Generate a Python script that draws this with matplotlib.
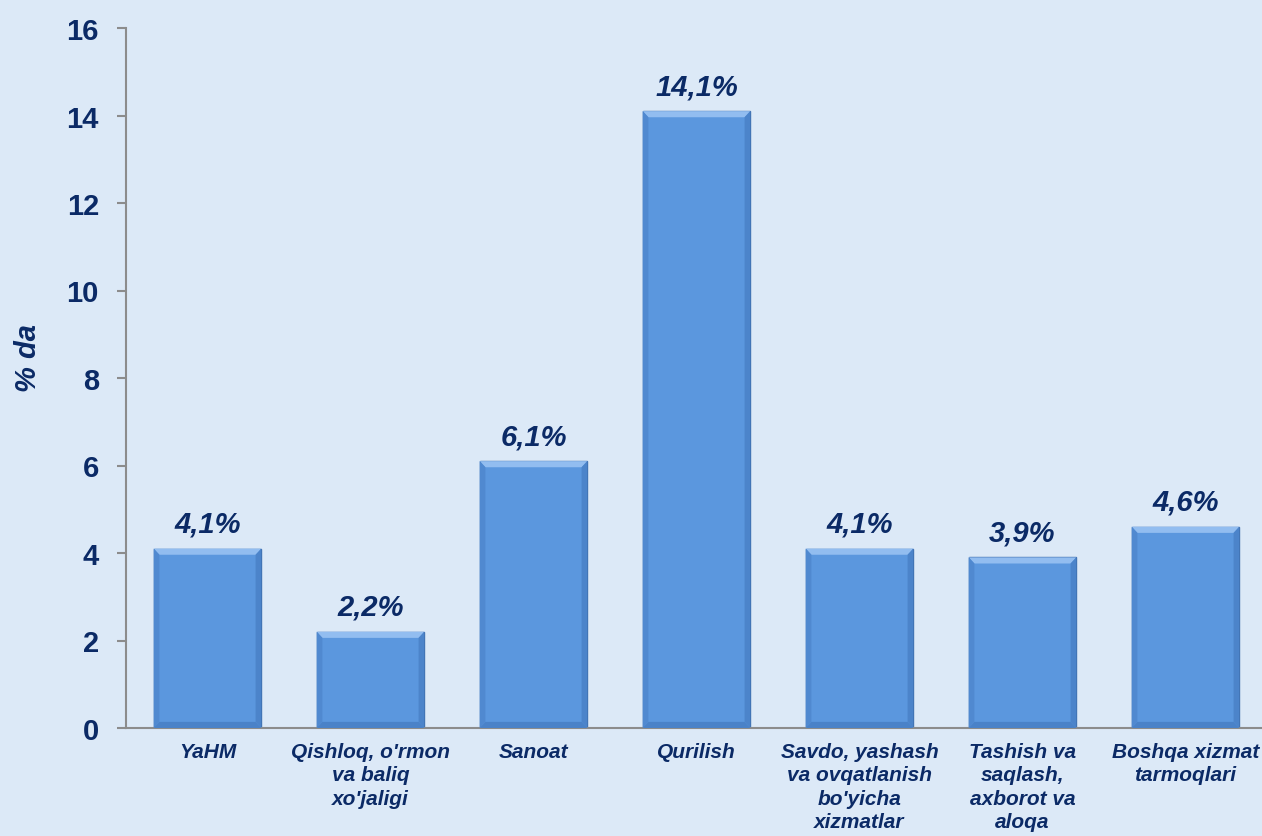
import matplotlib.pyplot as plt
from matplotlib.patches import Polygon

categories = ["YaHM", "Qishloq, o'rmon\nva baliq\nxo'jaligi", "Sanoat", "Qurilish",
              "Savdo, yashash\nva ovqatlanish\nbo'yicha\nxizmatlar",
              "Tashish va\nsaqlash,\naxborot va\naloqa",
              "Boshqa xizmat\ntarmoqlari"]
values = [4.1, 2.2, 6.1, 14.1, 4.1, 3.9, 4.6]
value_labels = ["4,1%", "2,2%", "6,1%", "14,1%", "4,1%", "3,9%", "4,6%"]
yticks = [0, 2, 4, 6, 8, 10, 12, 14, 16]

navy = "#0B2A66"
bar_color = "#5B97DE"
bg = "#DCE9F7"

plt.rcParams['font.family'] = ['Liberation Sans', 'DejaVu Sans']

fig = plt.figure(figsize=(12.62, 8.37), dpi=100)
fig.patch.set_facecolor(bg)
ax = fig.add_axes([126 / 1262, 1 - 729 / 837, 1141 / 1262, 700 / 837])
ax.set_facecolor(bg)

x = list(range(len(values)))
bars = ax.bar(x, values, width=0.66, color=bar_color, edgecolor="#3F6FAE", linewidth=1.0, zorder=2)

# simple bevel look on each bar
dx, dy = 0.035, 0.14
for r in bars:
    x0, w, h = r.get_x(), r.get_width(), r.get_height()
    x1 = x0 + w
    top = [(x0, h), (x1, h), (x1 - dx, h - dy), (x0 + dx, h - dy)]
    bot = [(x0, 0), (x1, 0), (x1 - dx, dy), (x0 + dx, dy)]
    left = [(x0, 0), (x0, h), (x0 + dx, h - dy), (x0 + dx, dy)]
    right = [(x1, 0), (x1, h), (x1 - dx, h - dy), (x1 - dx, dy)]
    ax.add_patch(Polygon(top, closed=True, color="#92BDF0", lw=0, zorder=3))
    ax.add_patch(Polygon(bot, closed=True, color="#4A82C8", lw=0, zorder=3))
    ax.add_patch(Polygon(left, closed=True, color="#5089D0", lw=0, zorder=3))
    ax.add_patch(Polygon(right, closed=True, color="#4C84CA", lw=0, zorder=3))

for xi, v, lab in zip(x, values, value_labels):
    ax.annotate(lab, (xi, v), xytext=(0, 8), textcoords="offset points",
                ha="center", va="bottom", fontsize=21, fontweight="bold",
                fontstyle="italic", color=navy)

ax.set_xlim(-0.5, len(values) - 0.5)
ax.set_ylim(0, 16)
ax.set_yticks(yticks)
ax.set_xticks(x)
ax.set_xticklabels(categories, fontsize=15, fontweight="bold", fontstyle="italic",
                   color=navy, linespacing=1.3, va="top")
ax.tick_params(axis="x", length=0, pad=10)
ax.tick_params(axis="y", length=6.5, width=1.5, color="#8C8C8C", pad=13,
               labelsize=21, labelcolor=navy)
for t in ax.get_yticklabels():
    t.set_fontweight("bold")

ax.set_ylabel("% da", fontsize=21, fontweight="bold", fontstyle="italic", color=navy)
ax.yaxis.set_label_coords(-0.074, 0.53)

for s in ["top", "right"]:
    ax.spines[s].set_visible(False)
for s in ["left", "bottom"]:
    ax.spines[s].set_color("#8C8C8C")
    ax.spines[s].set_linewidth(1.5)

fig.savefig("out.png", dpi=100, facecolor=bg)
